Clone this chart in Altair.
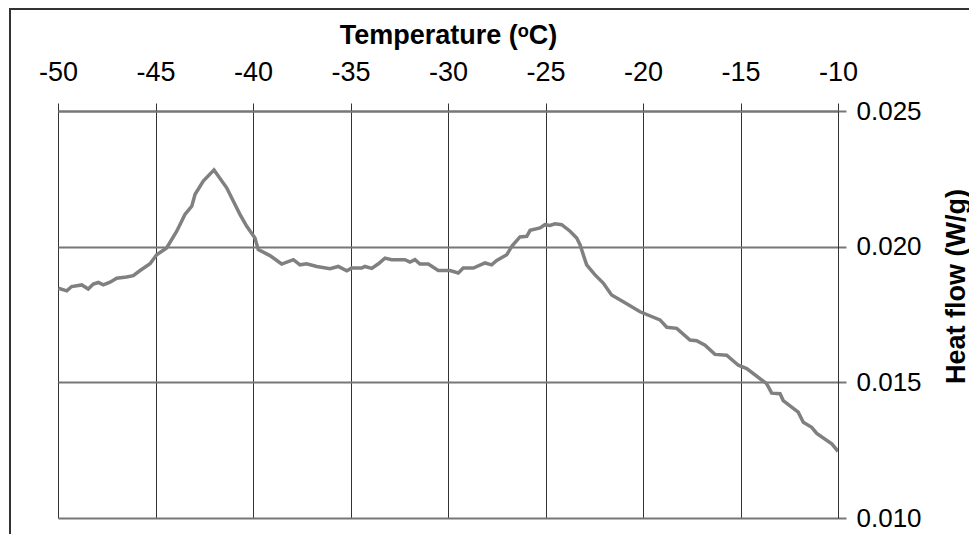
import altair as alt
import pandas as pd

temperature = [
    -49.98, -49.55, -49.30, -48.78, -48.45, -48.19, -47.93, -47.68, -47.33, -46.99,
    -46.48, -46.14, -45.79, -45.28, -44.94, -44.43, -43.91, -43.49, -43.14, -42.97,
    -42.55, -42.00, -41.35, -40.67, -40.32, -39.90, -39.73, -39.13, -38.53, -37.93,
    -37.59, -37.25, -36.73, -36.05, -35.63, -35.19, -34.94, -34.43, -34.26, -33.91,
    -33.57, -33.23, -32.89, -32.21, -31.95, -31.69, -31.44, -31.01, -30.50, -29.90,
    -29.47, -29.22, -28.70, -28.10, -27.76, -27.50, -26.99, -26.73, -26.31, -25.96,
    -25.79, -25.28, -25.03, -24.77, -24.51, -24.17, -23.74, -23.40, -23.23, -22.89,
    -22.46, -22.04, -21.61, -21.01, -20.15, -19.13, -18.78, -18.27, -17.59, -17.25,
    -16.82, -16.31, -15.71, -15.11, -14.68, -13.66, -13.40, -12.97, -12.81, -12.04,
    -11.78, -11.35, -11.09, -10.32, -10.00,
]
heat_flow = [
    0.01847, 0.01837, 0.01853, 0.01859, 0.01844, 0.01862, 0.01868, 0.01859, 0.01869, 0.01884,
    0.01888, 0.01893, 0.01912, 0.01937, 0.01970, 0.01995, 0.02057, 0.02119, 0.02149, 0.02193,
    0.02242, 0.02283, 0.02217, 0.02119, 0.02075, 0.02032, 0.01989, 0.01967, 0.01936, 0.01952,
    0.01933, 0.01937, 0.01927, 0.01919, 0.01927, 0.01911, 0.01921, 0.01921, 0.01927, 0.01920,
    0.01937, 0.01958, 0.01952, 0.01952, 0.01943, 0.01952, 0.01936, 0.01936, 0.01912, 0.01912,
    0.01903, 0.01921, 0.01921, 0.01940, 0.01933, 0.01949, 0.01970, 0.02001, 0.02036, 0.02038,
    0.02060, 0.02069, 0.02081, 0.02078, 0.02084, 0.02081, 0.02057, 0.02032, 0.02007, 0.01933,
    0.01896, 0.01866, 0.01822, 0.01797, 0.01760, 0.01730, 0.01703, 0.01699, 0.01656, 0.01653,
    0.01637, 0.01603, 0.01600, 0.01563, 0.01551, 0.01495, 0.01460, 0.01458, 0.01433, 0.01390,
    0.01353, 0.01334, 0.01312, 0.01273, 0.01246,
]
x_ticks = [-50, -45, -40, -35, -30, -25, -20, -15, -10]
y_ticks = [0.010, 0.015, 0.020, 0.025]

df = pd.DataFrame({"T": temperature, "H": heat_flow})
FONT = "Liberation Sans"

line = alt.Chart(df).mark_line(color="#808080", strokeWidth=3.5, clip=True).encode(
    x=alt.X(
        "T:Q",
        scale=alt.Scale(domain=[-50, -10], nice=False, zero=False),
        axis=alt.Axis(
            orient="top",
            values=x_ticks,
            labelExpr="toString(datum.value)",
            labelFlush=False,
            labelOverlap=False,
            title="Temperature (ᵒC)",
            titleFont=FONT,
            titleFontSize=27,
            titleFontWeight="bold",
            titleColor="#000000",
            titleBaseline="alphabetic",
            titleY=-68,
            labelFont=FONT,
            labelFontSize=27,
            labelColor="#000000",
            labelBaseline="alphabetic",
            labelPadding=23,
            tickSize=8,
            tickColor="#333333",
            domain=True,
            domainColor="#777777",
            domainWidth=2,
            grid=True,
            gridColor="#333333",
            gridWidth=1,
        ),
    ),
    y=alt.Y(
        "H:Q",
        scale=alt.Scale(domain=[0.010, 0.025], nice=False, zero=False),
        axis=alt.Axis(
            orient="right",
            values=y_ticks,
            format=".3f",
            labelFlush=False,
            labelOverlap=False,
            title="Heat flow (W/g)",
            titleFont=FONT,
            titleFontSize=27,
            titleFontWeight="bold",
            titleColor="#000000",
            titleAngle=270,
            titleBaseline="middle",
            titleAlign="center",
            titleX=118,
            titleY=175,
            labelFont=FONT,
            labelFontSize=26,
            labelColor="#000000",
            labelBaseline="middle",
            labelAlign="left",
            labelPadding=10,
            tickSize=8,
            tickColor="#777777",
            tickWidth=2,
            domain=True,
            domainColor="#333333",
            domainWidth=1,
            grid=True,
            gridColor="#777777",
            gridWidth=2,
        ),
    ),
)

frame = alt.Chart(alt.Data(values=[{}])).mark_rect(
    fill=None, stroke="#333333", strokeWidth=2
).encode(
    x=alt.value(-48), x2=alt.value(1100), y=alt.value(-102), y2=alt.value(700)
)

chart = (
    alt.layer(line, frame)
    .properties(
        width=780,
        height=407,
        autosize=alt.AutoSizeParams(type="none"),
        padding={"left": 50, "top": 103, "right": 131, "bottom": 16},
        background="#ffffff",
    )
    .configure_view(stroke=None)
)

chart.save("out.html", embed_options={"renderer": "svg", "actions": False})
